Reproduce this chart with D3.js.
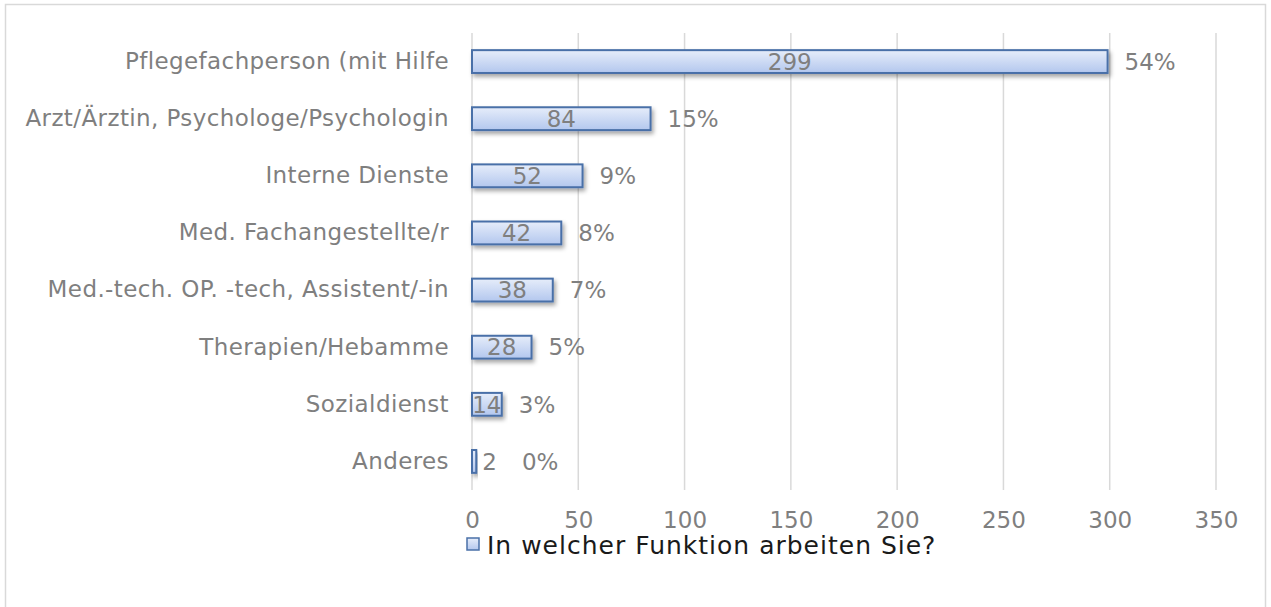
<!DOCTYPE html>
<html>
<head>
<meta charset="utf-8">
<script src="https://cdn.jsdelivr.net/npm/d3@7"></script>
<style>
  html, body { margin: 0; padding: 0; background: #fff; }
  svg { display: block; font-family: 'DejaVu Sans', sans-serif; }
</style>
</head>
<body>
<figure id="bar" style="margin:0"></figure>
<script>
// data
const categories = [
  'Pflegefachperson (mit Hilfe',
  'Arzt/Ärztin, Psychologe/Psychologin',
  'Interne Dienste',
  'Med. Fachangestellte/r',
  'Med.-tech. OP. -tech, Assistent/-in',
  'Therapien/Hebamme',
  'Sozialdienst',
  'Anderes'
];
const counts = [299, 84, 52, 42, 38, 28, 14, 2];
const percentLabels = ['54%', '15%', '9%', '8%', '7%', '5%', '3%', '0%'];
const xTicks = [0, 50, 100, 150, 200, 250, 300, 350];
const seriesName = 'In welcher Funktion arbeiten Sie?';

const width = 1271;
const height = 607;

const svg = d3.select('figure#bar')
  .append('svg')
  .attr('width', width)
  .attr('height', height);

const defs = svg.append('defs');
const grad = defs.append('linearGradient')
  .attr('id', 'barGrad')
  .attr('x1', 0).attr('y1', 0).attr('x2', 0).attr('y2', 1);
grad.append('stop').attr('offset', '0%').attr('stop-color', '#e6edfa');
grad.append('stop').attr('offset', '100%').attr('stop-color', '#b3c7ee');

const shadow = defs.append('filter')
  .attr('id', 'shadow')
  .attr('x', '-10%').attr('y', '-30%').attr('width', '130%').attr('height', '180%');
shadow.append('feDropShadow')
  .attr('dx', 2).attr('dy', 3)
  .attr('stdDeviation', 2)
  .attr('flood-color', '#000')
  .attr('flood-opacity', 0.35);

// chart frame
svg.append('rect')
  .attr('x', 5.5).attr('y', 4.5)
  .attr('width', 1260).attr('height', 620)
  .attr('fill', 'none')
  .attr('stroke', '#d9d9d9')
  .attr('stroke-width', 1.5);

const x = d3.scaleLinear().domain([0, 350]).range([472, 1216]);
const y = d3.scaleBand().domain(categories).range([33, 490])
  .paddingInner(0.6).paddingOuter(0.3);

// gridlines
svg.append('g')
  .selectAll('line')
  .data(xTicks)
  .enter()
  .append('line')
  .attr('x1', d => x(d)).attr('x2', d => x(d))
  .attr('y1', 33).attr('y2', 490)
  .attr('stroke', '#d9d9d9')
  .attr('stroke-width', 1.5);

// x axis labels
const xAxis = svg.append('g')
  .attr('transform', 'translate(0,490)')
  .call(d3.axisBottom(x).tickValues(xTicks).tickSize(0).tickPadding(22));
xAxis.select('.domain').remove();
xAxis.selectAll('text')
  .attr('fill', '#7f7f7f')
  .style('font-size', '23px')
  .style('font-family', "'DejaVu Sans', sans-serif");

// y axis labels
const yAxis = svg.append('g')
  .attr('transform', 'translate(472,0)')
  .call(d3.axisLeft(y).tickSize(0).tickPadding(23));
yAxis.select('.domain').remove();
yAxis.selectAll('text')
  .attr('fill', '#7f7f7f')
  .style('font-size', '23px')
  .style('letter-spacing', '0.4px')
  .style('font-family', "'DejaVu Sans', sans-serif");

// bars
svg.append('g')
  .selectAll('rect')
  .data(counts)
  .enter()
  .append('rect')
  .attr('x', x(0))
  .attr('y', (d, i) => y(categories[i]))
  .attr('width', d => x(d) - x(0))
  .attr('height', y.bandwidth())
  .attr('fill', 'url(#barGrad)')
  .attr('stroke', '#4a70a8')
  .attr('stroke-width', 2)
  .attr('filter', 'url(#shadow)');

// value labels (inside the bar, or just after it if it doesn't fit)
const labels = svg.append('g')
  .style('font-size', '23px')
  .attr('fill', '#7f7f7f');

const valueEnds = [];
counts.forEach((d, i) => {
  const cy = y(categories[i]) + y.bandwidth() / 2;
  const t = labels.append('text')
    .attr('y', cy)
    .attr('dy', '0.36em')
    .text(d);
  const w = t.node().getComputedTextLength();
  const barW = x(d) - x(0);
  if (w <= barW + 2) {
    t.attr('x', (x(0) + x(d)) / 2).attr('text-anchor', 'middle');
    valueEnds.push(x(d));
  } else {
    t.attr('x', x(d) + 6);
    valueEnds.push(x(d) + 6 + w);
  }
});

// percentage labels
labels.selectAll('text.pct')
  .data(percentLabels)
  .enter()
  .append('text')
  .attr('class', 'pct')
  .attr('x', (d, i) => valueEnds[i] + (valueEnds[i] === x(counts[i]) ? 17 : 25))
  .attr('y', (d, i) => y(categories[i]) + y.bandwidth() / 2)
  .attr('dy', '0.36em')
  .text(d => d);

// legend
const legend = svg.append('g');
legend.append('rect')
  .attr('x', 467).attr('y', 538)
  .attr('width', 12).attr('height', 12)
  .attr('fill', 'url(#barGrad)')
  .attr('stroke', '#4a70a8')
  .attr('stroke-width', 1.5);
legend.append('text')
  .attr('x', 487).attr('y', 545)
  .attr('dy', '0.36em')
  .attr('fill', '#1a1a1a')
  .style('font-size', '25px')
  .style('letter-spacing', '1px')
  .text(seriesName);
</script>
</body>
</html>
